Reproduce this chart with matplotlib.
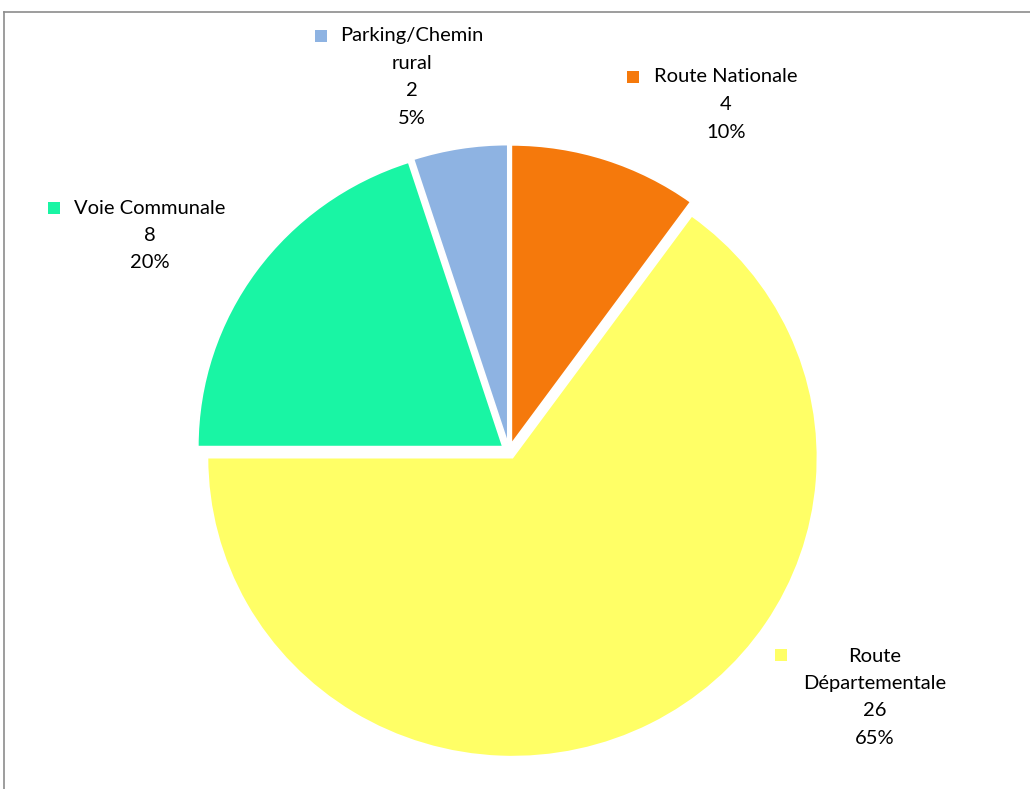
import matplotlib
matplotlib.use("Agg")
import matplotlib.pyplot as plt
from matplotlib.patches import Rectangle
from matplotlib.lines import Line2D

categories = ["Route Nationale", "Route Départementale", "Voie Communale", "Parking/Chemin rural"]
values = [4, 26, 8, 2]
percents = ["10%", "65%", "20%", "5%"]
label_lines = [["Route Nationale"], ["Route", "Départementale"], ["Voie Communale"], ["Parking/Chemin", "rural"]]
colors = ["#F5790C", "#FFFF66", "#19F5A4", "#8EB3E2"]

W, H = 1030, 789
fig = plt.figure(figsize=(W / 100, H / 100), dpi=100)
fig.patch.set_facecolor("white")

cx, cy, rx, ry = 509, 451, 305, 299
ax = fig.add_axes([0, 0, 1, 1])
ax.pie(values, colors=colors, startangle=90, counterclock=False,
       explode=[0.025] * len(values), radius=1.0,
       wedgeprops=dict(edgecolor="white", linewidth=1.2))
ax.set_aspect("auto")
ax.set_xlim((0 - cx) / rx, (W - cx) / rx)
ax.set_ylim((cy - H) / ry, (cy - 0) / ry)
ax.axis("off")

# Frame (chart area border)
fig.add_artist(Line2D([4 / W, 1.0], [1 - 12 / H, 1 - 12 / H], color="#8c8c8c", lw=1.2, transform=fig.transFigure))
fig.add_artist(Line2D([4 / W, 4 / W], [1 - 12 / H, 0], color="#8c8c8c", lw=1.2, transform=fig.transFigure))

# Data labels with legend keys (pixel positions)
label_center_x = [726, 875, 150, 412]
label_top_y = [77, 656, 208, 36]
key_pos = [(633, 77), (781, 655), (54, 208), (321, 36)]
line_step = 27.5
font = dict(family=["Lato", "DejaVu Sans"], fontsize=14.5, color="#000000")

def fx(p):
    return p / W

def fy(p):
    return 1 - p / H

for i in range(len(values)):
    lines = label_lines[i] + [str(values[i]), percents[i]]
    for j, t in enumerate(lines):
        fig.text(fx(label_center_x[i]), fy(label_top_y[i] + j * line_step), t,
                 ha="center", va="center", **font)
    kx, ky = key_pos[i]
    s = 12
    fig.add_artist(Rectangle((fx(kx - s / 2), fy(ky + s / 2)), s / W, s / H,
                             transform=fig.transFigure, facecolor=colors[i], edgecolor="none"))

fig.savefig("out.png", dpi=100)
